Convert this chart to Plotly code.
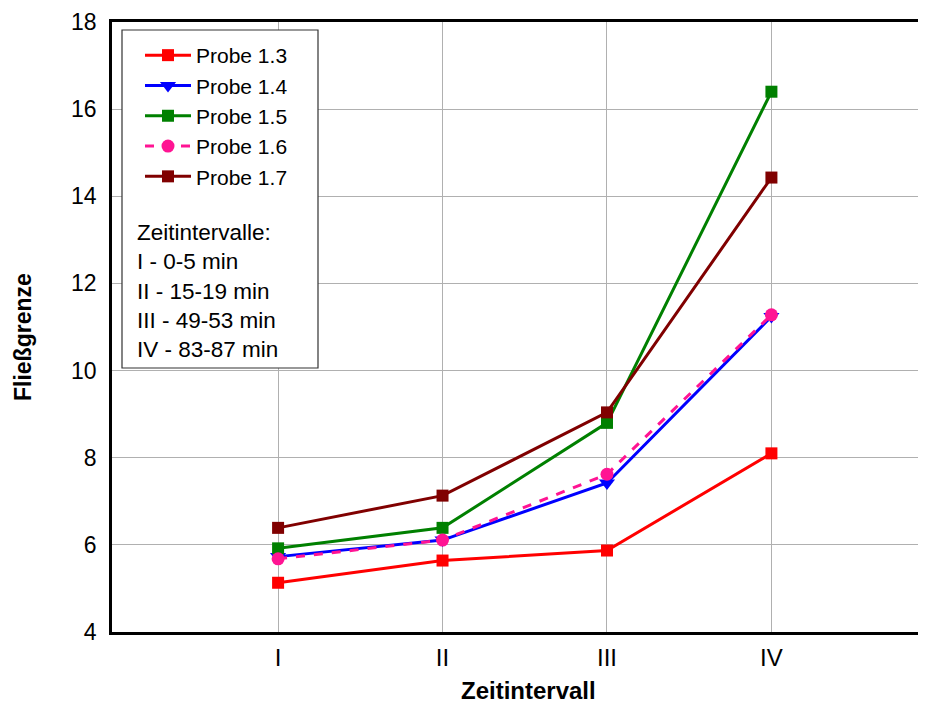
import plotly.graph_objects as go

categories = ["I", "II", "III", "IV"]
probe_13 = [5.13, 5.64, 5.87, 8.10]
probe_14 = [5.73, 6.11, 7.42, 11.24]
probe_15 = [5.92, 6.39, 8.80, 16.40]
probe_16 = [5.68, 6.11, 7.62, 11.28]
probe_17 = [6.39, 7.13, 9.04, 14.43]
series_names = ["Probe 1.3", "Probe 1.4", "Probe 1.5", "Probe 1.6", "Probe 1.7"]
note_lines = ["Zeitintervalle:", "I - 0-5 min", "II - 15-19 min", "III - 49-53 min", "IV - 83-87 min"]

xpos = list(range(len(categories)))
FONT = "Liberation Sans, Arial, sans-serif"

# page has an 8px body margin; figure coords = page coords - 8
PL, PT, PB, PR = 112, 22, 632, 926   # plot area in page pixels
PW, PH = PR - PL, PB - PT


def fx(px):
    return (px - PL) / PW


def fy(py):
    return (PB - py) / PH


styles = [
    dict(color="#ff0000", symbol="square", size=12, dash="solid"),
    dict(color="#0000ff", symbol="triangle-down", size=14, dash="solid"),
    dict(color="#008000", symbol="square", size=12, dash="solid"),
    dict(color="#ff1493", symbol="circle", size=13, dash="dash"),
    dict(color="#800000", symbol="square", size=12, dash="solid"),
]
data = [probe_13, probe_14, probe_15, probe_16, probe_17]

fig = go.Figure()
for name, vals, st in zip(series_names, data, styles):
    fig.add_trace(go.Scatter(
        x=xpos, y=vals, name=name, mode="lines+markers",
        line=dict(color=st["color"], width=3, dash=st["dash"]),
        marker=dict(color=st["color"], symbol=st["symbol"], size=st["size"]),
    ))

# legend box (white, covers gridlines)
fig.add_shape(type="rect", xref="paper", yref="paper",
              x0=fx(122), x1=fx(318), y0=fy(368), y1=fy(30),
              fillcolor="white", line=dict(color="#333333", width=1.2), layer="above")

fig.add_annotation(xref="paper", yref="paper",
                   x=fx(135), y=fy(218),
                   xanchor="left", yanchor="top", align="left",
                   text="<br>".join(note_lines), showarrow=False,
                   font=dict(family=FONT, size=22.5, color="black"))

# axis titles
fig.add_annotation(xref="paper", yref="paper", x=fx(528), y=fy(690),
                   xanchor="center", yanchor="middle", showarrow=False,
                   text="<b>Zeitintervall</b>", font=dict(family=FONT, size=24, color="black"))
fig.add_annotation(xref="paper", yref="paper", x=fx(23), y=fy(337),
                   xanchor="center", yanchor="middle", showarrow=False, textangle=-90,
                   text="<b>Fließgrenze</b>", font=dict(family=FONT, size=23, color="black"))

fig.update_layout(
    width=918, height=700,
    margin=dict(l=PL - 8, r=0, t=PT - 8, b=700 - (PB - 8)),
    paper_bgcolor="white", plot_bgcolor="white",
    font=dict(family=FONT, size=23, color="black"),
    showlegend=True,
    legend=dict(x=fx(140), y=fy(35), xanchor="left", yanchor="top",
                bgcolor="rgba(0,0,0,0)", borderwidth=0,
                font=dict(family=FONT, size=21, color="black"),
                tracegroupgap=0, itemwidth=46),
    xaxis=dict(range=[-1.01, 3.94], tickvals=xpos, ticktext=categories,
               showgrid=True, gridcolor="#b0b0b0", gridwidth=1,
               showline=True, linecolor="black", linewidth=2.5, mirror=True,
               ticks="outside", ticklen=2, tickcolor="rgba(0,0,0,0)",
               zeroline=False, tickfont=dict(size=24)),
    yaxis=dict(range=[4, 18], dtick=2, tick0=4,
               showgrid=True, gridcolor="#b0b0b0", gridwidth=1,
               showline=True, linecolor="black", linewidth=2.5, mirror=False,
               ticks="outside", ticklen=8, tickcolor="rgba(0,0,0,0)",
               zeroline=False, tickfont=dict(size=23)),
)

fig.write_html("out.html")
